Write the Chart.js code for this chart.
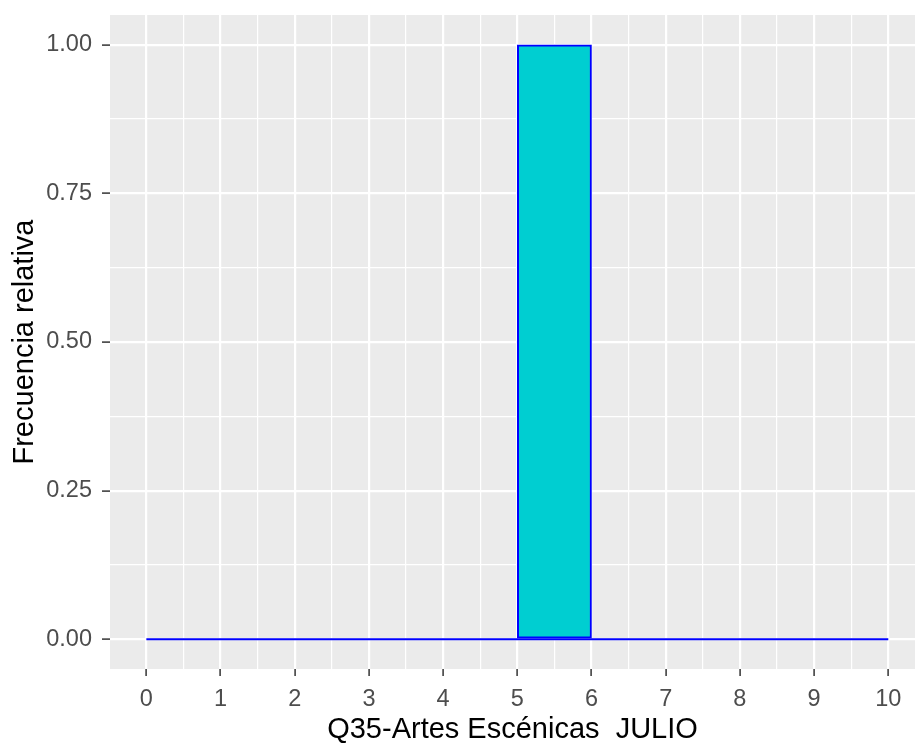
<!DOCTYPE html>
<html>
<head>
<meta charset="utf-8">
<script src="https://cdn.jsdelivr.net/npm/chart.js@4.4.0/dist/chart.umd.min.js"></script>
<style>
  html, body { margin: 0; padding: 0; background: #fff; }
  #wrap { width: 915px; height: 745px; }
</style>
</head>
<body>
<div id="wrap"><canvas id="c" width="915" height="745"></canvas></div>
<script>
// histogram bins (left edges), bin width 1
var binStarts = [0, 1, 2, 3, 4, 5, 6, 7, 8, 9];
var binWidth = 1;
var relFreq = [0, 0, 0, 0, 0, 1, 0, 0, 0, 0];

var xBreaks = [0, 1, 2, 3, 4, 5, 6, 7, 8, 9, 10];
var yBreaks = [0, 0.25, 0.5, 0.75, 1];

var xTitle = "Q35-Artes Escénicas  JULIO";
var yTitle = "Frecuencia relativa";

var FONT = "'Liberation Sans', Arial, sans-serif";
var X_MIN = -0.49, X_MAX = 10.36;

function minorOf(breaks) {
    var out = [];
    for (var i = 0; i < breaks.length - 1; i++) out.push((breaks[i] + breaks[i + 1]) / 2);
    return out;
}
function isMajor(breaks, v) {
    return breaks.some(function(b) { return Math.abs(b - v) < 1e-9; });
}

var barData = binStarts.map(function(s, i) {
    return { x: s + binWidth / 2, y: relFreq[i] };
});
var lastEdge = binStarts[binStarts.length - 1] + binWidth;
var baseLine = [{ x: binStarts[0], y: 0 }, { x: lastEdge, y: 0 }];

var panelBg = {
    id: "panelBg",
    beforeDraw: function(chart) {
        var a = chart.chartArea, ctx = chart.ctx;
        ctx.save();
        ctx.fillStyle = "#EBEBEB";
        ctx.fillRect(a.left, a.top, a.right - a.left, a.bottom - a.top);
        ctx.restore();
    }
};

new Chart(document.getElementById("c"), {
    type: "bar",
    data: {
        datasets: [{
            type: "bar",
            xAxisID: "x",
            yAxisID: "y",
            data: barData,
            backgroundColor: "#00CED1",
            borderColor: "#0000FF",
            borderWidth: 2,
            borderSkipped: false,
            barPercentage: 1,
            categoryPercentage: 1,
            order: 2
        }, {
            type: "line",
            xAxisID: "x",
            yAxisID: "y",
            data: baseLine,
            borderColor: "#0000FF",
            borderWidth: 2,
            pointRadius: 0,
            fill: false,
            order: 1
        }]
    },
    options: {
        responsive: false,
        animation: false,
        layout: { padding: { top: 15, left: 0, right: 0, bottom: 0 } },
        plugins: { legend: { display: false }, tooltip: { enabled: false } },
        scales: {
            x: {
                type: "linear",
                position: "bottom",
                min: X_MIN,
                max: X_MAX,
                offset: false,
                afterBuildTicks: function(scale) {
                    scale.ticks = xBreaks.map(function(v) { return { value: v }; });
                },
                afterFit: function(scale) {
                    scale.height = 76;
                    scale.paddingLeft = 0; scale.paddingRight = 0;
                },
                border: { display: false },
                grid: {
                    offset: false,
                    color: "#FFFFFF",
                    lineWidth: 2.2,
                    tickColor: "#333333",
                    tickWidth: 1.5,
                    tickLength: 7
                },
                ticks: {
                    autoSkip: false,
                    maxRotation: 0,
                    padding: 9,
                    color: "#4D4D4D",
                    font: { family: FONT, size: 23.5 },
                    callback: function(v) { return String(v); }
                },
                title: {
                    display: true,
                    text: xTitle,
                    color: "#000000",
                    font: { family: FONT, size: 29, lineHeight: 1 },
                    padding: { top: 0, bottom: 1 }
                }
            },
            // minor vertical grid only
            xMinor: {
                type: "linear",
                position: "bottom",
                min: X_MIN,
                max: X_MAX,
                offset: false,
                afterBuildTicks: function(scale) {
                    scale.ticks = minorOf(xBreaks).map(function(v) { return { value: v }; });
                },
                afterFit: function(scale) {
                    scale.height = 0;
                    scale.paddingLeft = 0; scale.paddingRight = 0;
                },
                border: { display: false },
                grid: { offset: false, color: "#FFFFFF", lineWidth: 1.2, drawTicks: false },
                ticks: { display: false }
            },
            y: {
                type: "linear",
                min: -0.05,
                max: 1.05,
                afterBuildTicks: function(scale) {
                    scale.ticks = yBreaks.concat(minorOf(yBreaks)).sort().map(function(v) { return { value: v }; });
                },
                afterFit: function(scale) {
                    scale.width = 110;
                    scale.paddingTop = 0; scale.paddingBottom = 0;
                },
                border: { display: false },
                grid: {
                    color: "#FFFFFF",
                    lineWidth: function(ctx) { return isMajor(yBreaks, ctx.tick.value) ? 2.2 : 1.2; },
                    tickColor: function(ctx) { return isMajor(yBreaks, ctx.tick.value) ? "#333333" : "rgba(0,0,0,0)"; },
                    tickWidth: 1.5,
                    tickLength: 8
                },
                ticks: {
                    autoSkip: false,
                    padding: 10,
                    color: "#4D4D4D",
                    font: { family: FONT, size: 23.5 },
                    callback: function(v) { return isMajor(yBreaks, v) ? v.toFixed(2) : ""; }
                },
                title: {
                    display: true,
                    text: yTitle,
                    color: "#000000",
                    font: { family: FONT, size: 29, lineHeight: 1 },
                    padding: { top: 10, bottom: 0 }
                }
            }
        }
    },
    plugins: [panelBg]
});
</script>
</body>
</html>
